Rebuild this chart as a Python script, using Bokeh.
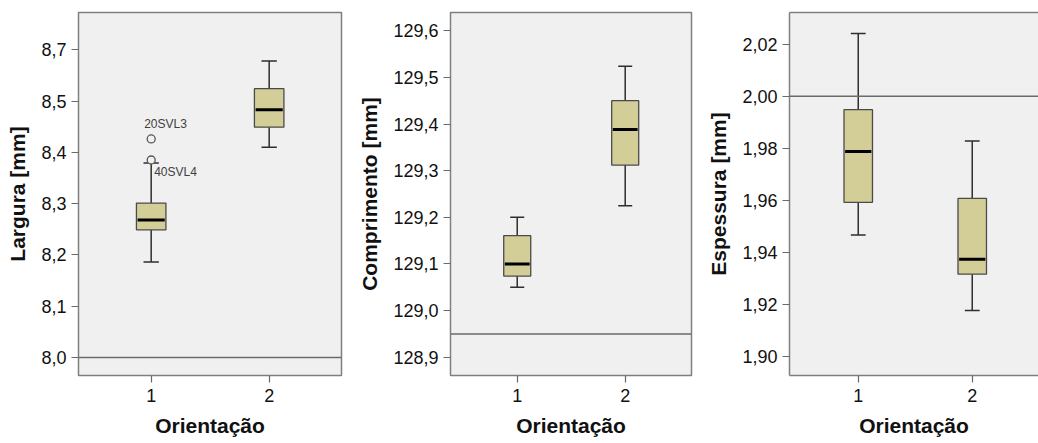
from bokeh.plotting import figure
from bokeh.models import ColumnDataSource, Span, FixedTicker, LinearAxis, Range1d
from bokeh.layouts import row
from bokeh.embed import file_html
from bokeh.resources import INLINE
from bokeh.core.properties import value

# ---------------- data ----------------
groups = [1, 2]
group_labels = ["1", "2"]
x_title = "Orientação"

larg_lo = [8.186, 8.410]
larg_q1 = [8.249, 8.449]
larg_med = [8.268, 8.483]
larg_q3 = [8.301, 8.524]
larg_hi = [8.379, 8.578]
larg_out_x = [1, 1]
larg_out_y = [8.426, 8.385]
larg_out_lbl = ["20SVL3", "40SVL4"]
larg_ticks = [8.0, 8.1, 8.2, 8.3, 8.4, 8.5, 8.6]
larg_tick_lbl = ["8,0", "8,1", "8,2", "8,3", "8,4", "8,5", "8,7"]
larg_ref = 8.0

comp_lo = [129.050, 129.225]
comp_q1 = [129.074, 129.312]
comp_med = [129.100, 129.388]
comp_q3 = [129.161, 129.450]
comp_hi = [129.200, 129.524]
comp_ticks = [128.9, 129.0, 129.1, 129.2, 129.3, 129.4, 129.5, 129.6]
comp_tick_lbl = ["128,9", "129,0", "129,1", "129,2", "129,3", "129,4", "129,5", "129,6"]
comp_ref = 128.95

esp_lo = [1.9468, 1.9178]
esp_q1 = [1.9593, 1.9317]
esp_med = [1.9788, 1.9374]
esp_q3 = [1.9949, 1.9608]
esp_hi = [2.0241, 1.9829]
esp_ticks = [1.90, 1.92, 1.94, 1.96, 1.98, 2.00, 2.02]
esp_tick_lbl = ["1,90", "1,92", "1,94", "1,96", "1,98", "2,00", "2,02"]
esp_ref = 2.00

# ---------------- style ----------------
BG = "#f0f0f0"
FRAME = "#7f7f7f"
BOX_FILL = "#d3ce97"
BOX_LINE = "#4a4a4a"
WHISK = "#2e2e2e"
FONT = "Liberation Sans"
BOX_W = 0.25
CAP_W = 0.13
H = 443
FRAME_TOP = 12
FRAME_H = 363


def make_panel(width, left, right, yr, xr, ticks, tick_lbl, ylabel,
               lo, q1, med, q3, hi, ref, outline=True):
    p = figure(width=width, height=H, output_backend="svg", toolbar_location=None,
               x_range=Range1d(*xr), y_range=Range1d(*yr),
               min_border_left=left, min_border_right=right,
               min_border_top=FRAME_TOP, min_border_bottom=H - FRAME_TOP - FRAME_H,
               background_fill_color=BG, border_fill_color="white")
    p.grid.visible = False
    if outline:
        p.outline_line_color = FRAME
        p.outline_line_width = 1.5
    else:
        p.outline_line_color = None

    for ax in (p.xaxis[0], p.yaxis[0]):
        ax.axis_line_color = FRAME if not outline else None
        ax.axis_line_width = 1.5
        ax.major_tick_line_color = "#6a6a6a"
        ax.major_tick_line_width = 1.2
        ax.major_tick_out = 7
        ax.major_tick_in = 0
        ax.minor_tick_line_color = None
        ax.major_label_text_font = FONT
        ax.major_label_text_font_size = "18px"
        ax.major_label_text_color = "#111111"
        ax.axis_label_text_font = FONT
        ax.axis_label_text_font_size = "21px"
        ax.axis_label_text_font_style = "bold"
        ax.axis_label_text_color = "#111111"

    p.yaxis.ticker = FixedTicker(ticks=ticks)
    p.yaxis.major_label_overrides = {t: l for t, l in zip(ticks, tick_lbl)}
    p.yaxis.major_label_standoff = 5
    p.yaxis.axis_label = ylabel
    p.yaxis.axis_label_standoff = 9

    p.xaxis.ticker = FixedTicker(ticks=groups)
    p.xaxis.major_label_overrides = {g: l for g, l in zip(groups, group_labels)}
    p.xaxis.major_label_standoff = 6
    p.xaxis.axis_label = x_title
    p.xaxis.axis_label_standoff = 9

    p.add_layout(Span(location=ref, dimension="width", line_color="#6b6b6b", line_width=1.5))

    src = ColumnDataSource(dict(
        x=groups, lo=lo, q1=q1, med=med, q3=q3, hi=hi,
        cl=[g - CAP_W / 2 for g in groups], cr=[g + CAP_W / 2 for g in groups],
        bl=[g - BOX_W / 2 + 0.01 for g in groups], br=[g + BOX_W / 2 - 0.01 for g in groups],
    ))
    # whiskers
    p.segment(x0="x", y0="q3", x1="x", y1="hi", source=src, line_color=WHISK, line_width=1.5)
    p.segment(x0="x", y0="q1", x1="x", y1="lo", source=src, line_color=WHISK, line_width=1.5)
    p.segment(x0="cl", y0="hi", x1="cr", y1="hi", source=src, line_color=WHISK, line_width=1.5)
    p.segment(x0="cl", y0="lo", x1="cr", y1="lo", source=src, line_color=WHISK, line_width=1.5)
    # boxes
    p.vbar(x="x", width=BOX_W, bottom="q1", top="q3", source=src,
           fill_color=BOX_FILL, line_color=BOX_LINE, line_width=1.3)
    # medians
    p.segment(x0="bl", y0="med", x1="br", y1="med", source=src, line_color="black", line_width=3)
    return p


p1 = make_panel(354, 78, 13, (7.965, 8.6725), (0.384, 2.613), larg_ticks, larg_tick_lbl,
                "Largura [mm]", larg_lo, larg_q1, larg_med, larg_q3, larg_hi, larg_ref)
osrc = ColumnDataSource(dict(x=larg_out_x, y=larg_out_y, lbl=larg_out_lbl))
p1.scatter(x="x", y="y", source=osrc, marker="circle", size=8,
           fill_color=BG, line_color="#555555", line_width=1.3)
p1.text(x=[larg_out_x[0]], y=[larg_out_y[0]], text=[larg_out_lbl[0]], x_offset=-7, y_offset=-8,
        text_font=value(FONT), text_font_size="12px", text_color="#404040",
        text_baseline="bottom", text_align="left")
p1.text(x=[larg_out_x[1]], y=[larg_out_y[1]], text=[larg_out_lbl[1]], x_offset=3, y_offset=5,
        text_font=value(FONT), text_font_size="12px", text_color="#404040",
        text_baseline="top", text_align="left")

p2 = make_panel(346, 96, 9, (128.861, 129.639), (0.382, 2.614), comp_ticks, comp_tick_lbl,
                "Comprimento [mm]", comp_lo, comp_q1, comp_med, comp_q3, comp_hi, comp_ref)

p3 = make_panel(338, 89, 0, (1.8928, 2.0322), (0.397, 0.397 + 249 / 114), esp_ticks, esp_tick_lbl,
                "Espessura [mm]", esp_lo, esp_q1, esp_med, esp_q3, esp_hi, esp_ref,
                outline=False)
top_ax = LinearAxis(ticker=FixedTicker(ticks=[]), axis_line_color=FRAME, axis_line_width=1.5,
                    major_tick_out=0, major_tick_in=0, minor_tick_out=0, minor_tick_in=0,
                    major_label_text_font_size="0px", major_label_standoff=0)
p3.add_layout(top_ax, "above")

layout = row(p1, p2, p3)
open("out.html", "w").write(file_html(layout, INLINE))
